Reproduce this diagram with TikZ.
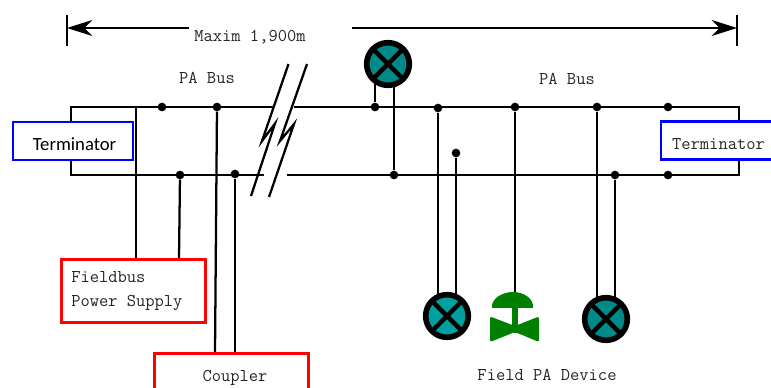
\documentclass[tikz,border=0pt]{standalone}
\usepackage{fontspec}
\setsansfont{Carlito}
\usepackage{tikz}
\usetikzlibrary{arrows.meta,backgrounds}
\definecolor{busred}{RGB}{255,0,0}
\definecolor{termblue}{RGB}{0,0,255}
\definecolor{valvegreen}{RGB}{0,128,0}
\definecolor{fieldteal}{RGB}{0,137,137}
\definecolor{fieldcyan}{RGB}{0,160,160}
\tikzset{
  wire/.style={line width=1.7pt},
  tag/.style={font=\ttfamily\fontsize{13.5}{18}\selectfont,text=black!85,inner sep=0pt},
  junction/.style={circle,fill=black,inner sep=0pt,minimum size=6.5pt},
  termbox/.style={draw=termblue,line width=2.2pt,fill=white,minimum width=90pt,minimum height=28.5pt,inner sep=0pt},
  redbox/.style={draw=busred,line width=2.2pt,fill=white,inner sep=0pt},
  instrument/.style={circle,draw=black,line width=4.2pt,fill=#1,minimum size=32pt,inner sep=0pt,
    path picture={\draw[line width=3.2pt] (path picture bounding box.north west) -- (path picture bounding box.south east)
      (path picture bounding box.north east) -- (path picture bounding box.south west);}},
  span/.style={wire,-{Stealth[length=19pt,width=12pt,inset=6pt]}}
}
\begin{document}
\begin{tikzpicture}[x=0.75pt,y=0.75pt,yscale=-1,xscale=1]
\useasboundingbox (0,0) rectangle (771,388);

%Coordinates: bus corners and ends
\coordinate (topleft) at (71,107);
\coordinate (botleft) at (71,175);
\coordinate (topright) at (739,107);
\coordinate (botright) at (739,175);
\coordinate (topbreakA) at (274,107);
\coordinate (topbreakB) at (294,107);
\coordinate (botbreakA) at (264,175);
\coordinate (botbreakB) at (287,175);

%Junctions: top bus
\node [junction] (jt1) at (162,107) {};
\node [junction] (jt2) at (217,107) {};
\node [junction] (jt3) at (375,107) {};
\node [junction] (jt4) at (438,108) {};
\node [junction] (jt5) at (515,107) {};
\node [junction] (jt6) at (597,107) {};
\node [junction] (jt7) at (668,107) {};
\coordinate (jt0) at (136,107);
%Junctions: bottom bus
\node [junction] (jb1) at (180,175) {};
\node [junction] (jb2) at (235,174) {};
\node [junction] (jb3) at (394,175) {};
\node [junction] (jb4) at (615,175) {};
\node [junction] (jb5) at (668,175) {};
\node [junction] (jfree) at (456,153) {};

% Boxes
\node [termbox] (termL) at (73,141) {};
\node [termbox] (termR) at (721,140.5) {};
\node [redbox,minimum width=107.5pt,minimum height=47pt] (power) at (133.5,291) {};
\node [redbox,minimum width=115pt,minimum height=36pt] (coupler) at (231.5,377.5) {};
% Text Node
\node [font=\sffamily\fontsize{14}{16}\selectfont,inner sep=0pt] (termLtext) at (74.5,144) {Terminator};
\node [tag] (termRtext) at (718.5,144) {Terminator};
\node [tag,align=left,anchor=west] (powertext) at (71,291.5) {Fieldbus\\Power Supply};
\node [tag] (couplertext) at (235,378) {Coupler};
\node [tag] (span) at (250,37) {Maxim 1,900m};
\node [tag] (busL) at (207,78) {PA Bus};
\node [tag] (busR) at (567,79) {PA Bus};
\node [tag] (devices) at (547,375) {Field PA Device};

% Instruments
\node [instrument=fieldteal] (fieldtop) at (388,64) {};
\node [instrument=fieldcyan] (fieldA) at (447,316) {};
\node [instrument=fieldteal] (fieldB) at (606,319) {};

%Shape: valve
\coordinate (valvetop) at (515,292);
\fill [valvegreen] (492,308) .. controls (491,298) and (503,292) .. (513,292) .. controls (523,292) and (534,298) .. (533,308) -- cycle;
\fill [valvegreen] (512,307) rectangle (518,326);
\fill [valvegreen,rounded corners=1.5pt] (490,316.5) -- (515,326) -- (539,316.5) -- (539,342) -- (515,332) -- (490,342) -- cycle;

\begin{scope}[on background layer]
%Straight Lines: buses
\draw [wire] (topbreakA) -- (topleft) -- (botleft) -- (botbreakA);
\draw [wire] (topbreakB) -- (topright) -- (botright) -- (botbreakB);
%Straight Lines: power supply and coupler
\draw [wire] (jt0) -- (jt0 |- power.north);
\draw [wire] (jb1) -- (179,259);
\draw [wire] (jt2) -- (215,353);
\draw [wire] (jb2) -- (jb2 |- coupler.north);
%Straight Lines: field devices
\draw [wire] (jt3) -- (jt3 |- fieldtop.center);
\draw [wire] (jb3) -- (jb3 |- fieldtop.center);
\draw [wire] (jt4) -- (jt4 |- fieldA.center);
\draw [wire] (jfree) -- (jfree |- fieldA.center);
\draw [wire] (jt5) -- (valvetop);
\draw [wire] (jt6) -- (jt6 |- fieldB.center);
\draw [wire] (jb4) -- (jb4 |- fieldB.center);
\end{scope}

%Straight Lines: break marks
\draw [wire,line join=miter] (288.5,64) -- (262,141) -- (275,123.5) -- (251,196);
\draw [wire,line join=miter] (307,64) -- (280,141) -- (294,124) -- (269,197);

%Straight Lines: span arrows
\coordinate (spanL) at (67,28);
\coordinate (spanR) at (737,28);
\draw [wire] (67,15) -- (67,46);
\draw [wire] (737,15) -- (737,46);
\draw [span] (189,28) -- (spanL);
\draw [span] (352,28) -- (spanR);
\end{tikzpicture}
\end{document}
